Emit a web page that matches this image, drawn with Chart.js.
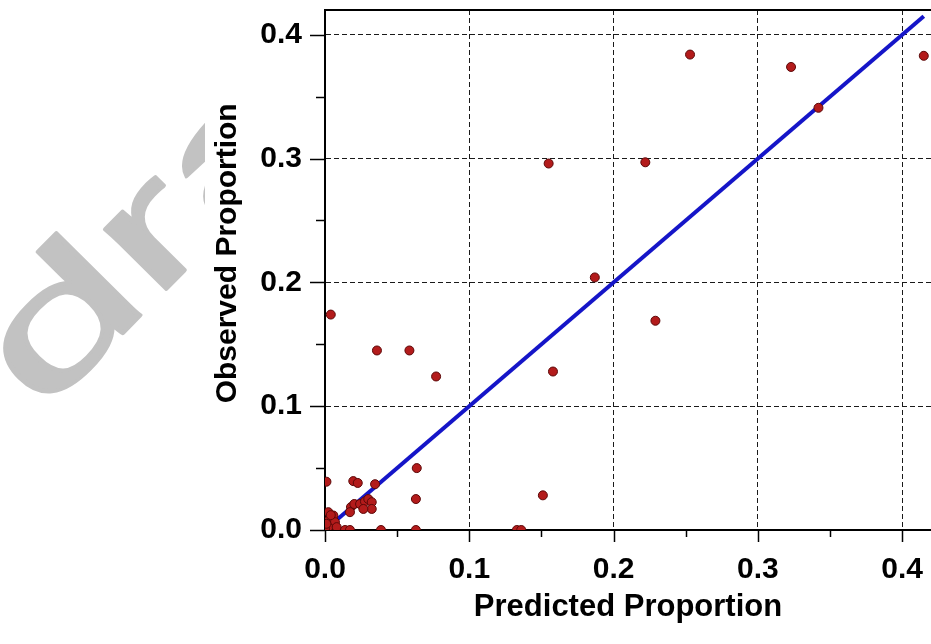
<!DOCTYPE html>
<html>
<head>
<meta charset="utf-8">
<script src="https://cdn.jsdelivr.net/npm/chart.js@4.4.1/dist/chart.umd.min.js"></script>
<style>
  html, body { margin: 0; padding: 0; background: #fff; }
  #wrap { width: 931px; height: 644px; position: relative; }
</style>
</head>
<body>
<div id="wrap"><canvas id="c"></canvas></div>
<script>
// ---- data ----
const predicted = [
  0.415, 0.253, 0.323, 0.342, 0.155, 0.222, 0.187, 0.229, 0.158,
  0.004, 0.036, 0.0585, 0.077, 0.151, 0.0636, 0.063, 0.063, 0.0388, 0.133, 0.136,
  0.001, 0.0196, 0.0227, 0.0347,
  0.018, 0.0203, 0.0243, 0.0277, 0.030, 0.0324, 0.0324, 0.0266, 0.0173,
  0.0023, 0.0058, 0.0023, 0.0069, 0.0023, 0.0081, 0.0, 0.004, 0.001,
  0.0139, 0.0173
];
const observed = [
  0.383, 0.384, 0.374, 0.341, 0.296, 0.297, 0.204, 0.169, 0.128,
  0.174, 0.145, 0.145, 0.124, 0.028, 0.050, 0.025, 0.0, 0.0, 0.0, 0.0,
  0.039, 0.0395, 0.038, 0.037,
  0.0185, 0.021, 0.021, 0.023, 0.025, 0.0225, 0.017, 0.017, 0.0144,
  0.0144, 0.0117, 0.0077, 0.0063, 0.0023, 0.0023, 0.001, 0.012, 0.005,
  0.0, 0.0
];
const fitLineX = [0.004, 0.415];
const fitLineY = [0.004, 0.415];
const majorTicks = [0, 0.1, 0.2, 0.3, 0.4];
const minorTicks = [0.05, 0.15, 0.25, 0.35];
const tickLabels = ['0.0', '0.1', '0.2', '0.3', '0.4'];
const axisMin = 0, axisMax = 0.42;
const xTitle = 'Predicted Proportion';
const yTitle = 'Observed Proportion';
const watermark = 'draft';

const FONT = "'Liberation Sans', Arial, sans-serif";

function majorIndex(v) {
  for (let i = 0; i < majorTicks.length; i++) if (Math.abs(majorTicks[i] - v) < 1e-6) return i;
  return -1;
}
function gridColor(ctx) {
  if (!ctx.tick) return 'transparent';
  const i = majorIndex(ctx.tick.value);
  return (i > 0) ? '#1a1a1a' : 'transparent';
}

const decorPlugin = {
  id: 'decor',
  beforeDraw(chart) {
    const ctx = chart.ctx;
    ctx.save();
    ctx.fillStyle = '#fff';
    ctx.fillRect(0, 0, chart.width, chart.height);
    ctx.beginPath();
    ctx.rect(0, 0, 205, chart.height);
    ctx.clip();
    // stretched, rotated watermark text
    ctx.transform(1.22, -1.24, 0.71, 0.702, 42, 416);
    ctx.font = "164px " + FONT;
    ctx.fillStyle = '#c2c2c2';
    ctx.strokeStyle = '#c2c2c2';
    ctx.lineWidth = 3;
    ctx.lineJoin = 'round';
    ctx.textBaseline = 'alphabetic';
    ctx.fillText(watermark, 0, 0);
    ctx.strokeText(watermark, 0, 0);
    ctx.restore();
  },
  afterDraw(chart) {
    const ctx = chart.ctx;
    const a = chart.chartArea;
    const xs = chart.scales.x, ys = chart.scales.y;
    ctx.save();
    ctx.strokeStyle = '#000';
    ctx.lineWidth = 2;
    ctx.beginPath();
    ctx.moveTo(a.left - 1, a.top);
    ctx.lineTo(a.right, a.top);
    ctx.stroke();
    ctx.lineWidth = 1.5;
    majorTicks.concat(minorTicks).forEach(v => {
      const major = majorIndex(v) >= 0;
      const py = Math.round(ys.getPixelForValue(v)) + 0.5;
      const ly = major ? 15 : 9;
      ctx.beginPath(); ctx.moveTo(a.left - ly, py); ctx.lineTo(a.left, py); ctx.stroke();
      const px = Math.round(xs.getPixelForValue(v)) + 0.5;
      const lx = major ? 12 : 7;
      ctx.beginPath(); ctx.moveTo(px, a.bottom); ctx.lineTo(px, a.bottom + lx); ctx.stroke();
    });
    ctx.restore();
  }
};

function tickCb(value) {
  const i = majorIndex(value);
  return i >= 0 ? tickLabels[i] : '';
}

new Chart(document.getElementById('c'), {
  type: 'scatter',
  data: {
    datasets: [
      {
        label: 'Observed',
        data: predicted.map((x, i) => ({ x: x, y: observed[i] })),
        pointRadius: 4.5,
        pointBackgroundColor: '#b31b1b',
        pointBorderColor: '#5c0808',
        pointBorderWidth: 1,
        showLine: false,
        clip: 0
      },
      {
        label: 'Fit',
        data: fitLineX.map((x, i) => ({ x: x, y: fitLineY[i] })),
        showLine: true,
        borderColor: '#1515c8',
        borderWidth: 4,
        pointRadius: 0,
        fill: false,
        clip: 0
      }
    ]
  },
  options: {
    responsive: true,
    maintainAspectRatio: false,
    animation: false,
    devicePixelRatio: 1,
    layout: { autoPadding: false, padding: { top: 10, right: 0, left: 0, bottom: 0 } },
    plugins: { legend: { display: false }, tooltip: { enabled: false } },
    scales: {
      x: {
        type: 'linear',
        min: axisMin, max: axisMax,
        afterFit(s) { s.height = 114; s.paddingLeft = 0; s.paddingRight = 0; },
        ticks: {
          stepSize: 0.05, includeBounds: false, autoSkip: false, maxRotation: 0,
          padding: 7, color: '#000',
          font: { family: FONT, size: 30, weight: 'bold', lineHeight: 1.2 },
          callback: tickCb
        },
        grid: { color: gridColor, lineWidth: 1, drawTicks: true, tickLength: 15, tickColor: 'transparent' },
        border: { display: true, color: '#000', width: 2, dash: [5, 3] },
        title: {
          display: true, text: xTitle, color: '#000',
          font: { family: FONT, size: 31, weight: 'bold', lineHeight: 1.2 },
          padding: { top: 0, bottom: 18 }
        }
      },
      y: {
        type: 'linear',
        min: axisMin, max: axisMax,
        afterFit(s) { s.width = 325; s.paddingTop = 0; s.paddingBottom = 0; },
        ticks: {
          stepSize: 0.05, includeBounds: false, autoSkip: false,
          padding: 8, color: '#000',
          font: { family: FONT, size: 30, weight: 'bold', lineHeight: 1.2 },
          callback: tickCb
        },
        grid: { color: gridColor, lineWidth: 1, drawTicks: true, tickLength: 15, tickColor: 'transparent' },
        border: { display: true, color: '#000', width: 2, dash: [5, 3] },
        title: {
          display: true, text: '    ' + yTitle, color: '#000',
          font: { family: FONT, size: 30, weight: 'bold', lineHeight: 1.2 },
          padding: { top: 210, bottom: 0 }
        }
      }
    }
  },
  plugins: [decorPlugin]
});
</script>
</body>
</html>
